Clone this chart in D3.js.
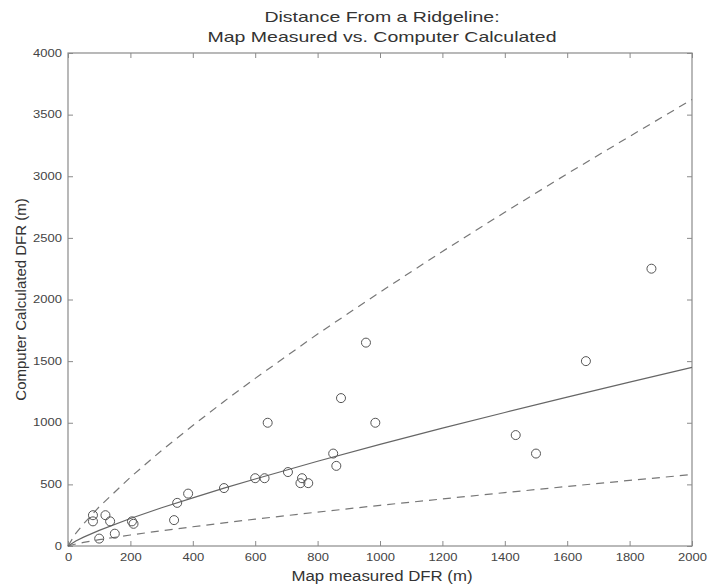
<!DOCTYPE html>
<html>
<head>
<meta charset="utf-8">
<script src="https://cdn.jsdelivr.net/npm/d3@7/dist/d3.min.js"></script>
<style>
  body { margin: 0; background: #fff; }
  svg { display: block; }
  text { font-family: "Liberation Sans", Arial, Helvetica, sans-serif; }
</style>
</head>
<body>
<svg id="chart" width="720" height="585"></svg>
<script>
// Observed points: map measured vs computer calculated DFR (m)
const mapMeasured = [80, 80, 120, 135, 205, 210, 100, 150, 340, 350, 385, 500, 600, 630, 640, 705, 750, 745, 770, 850, 860, 875, 955, 985, 1435, 1500, 1660, 1870];
const computerCalc = [250, 200, 250, 200, 200, 180, 60, 100, 210, 350, 425, 470, 550, 550, 1000, 600, 550, 510, 510, 750, 650, 1200, 1650, 1000, 900, 750, 1500, 2250];

// Curves (fit line and upper/lower dashed bounds)
const curveX = [0, 25, 50, 100, 200, 300, 400, 500, 600, 800, 1000, 1200, 1400, 1600, 1800, 2000];
const fitLine = [0, 41, 72, 127, 223, 310, 391, 469, 544, 688, 824, 956, 1083, 1208, 1329, 1449];
const upperBound = [0, 103, 180, 318, 558, 775, 978, 1173, 1360, 1720, 2060, 2390, 2708, 3020, 3323, 3623];
const lowerBound = [0, 16, 29, 51, 89, 124, 156, 188, 218, 275, 330, 382, 433, 483, 532, 580];

const xTicks = [0, 200, 400, 600, 800, 1000, 1200, 1400, 1600, 1800, 2000];
const yTicks = [0, 500, 1000, 1500, 2000, 2500, 3000, 3500, 4000];

const titleLines = ["Distance From a Ridgeline:", "Map Measured vs. Computer Calculated"];
const xLabel = "Map measured DFR (m)";
const yLabel = "Computer Calculated DFR (m)";

const margin = { left: 68, right: 28, top: 53, bottom: 39 };
const W = 720, H = 585;
const svg = d3.select("#chart");

const x = d3.scaleLinear().domain([0, 2000]).range([margin.left, W - margin.right]);
const y = d3.scaleLinear().domain([0, 4000]).range([H - margin.bottom, margin.top]);

const axisColor = "#8a8a8a";
const textColor = "#333";

// Horizontally stretch text (reference text is wide)
function stretch(sel, f) {
  sel.each(function() {
    const len = this.getComputedTextLength();
    if (len > 0) d3.select(this).attr("textLength", len * f).attr("lengthAdjust", "spacingAndGlyphs");
  });
}

// Frame
svg.append("rect")
  .attr("x", x(0)).attr("y", y(4000))
  .attr("width", x(2000) - x(0)).attr("height", y(0) - y(4000))
  .attr("fill", "none").attr("stroke", axisColor).attr("stroke-width", 1.2);

// Axes (ticks inward)
const tickLen = 5;
const gx = svg.append("g").attr("transform", `translate(0,${y(0)})`)
  .call(d3.axisBottom(x).tickValues(xTicks).tickSize(-tickLen).tickPadding(8).tickFormat(d3.format("d")));
const gxTop = svg.append("g").attr("transform", `translate(0,${y(4000)})`)
  .call(d3.axisTop(x).tickValues(xTicks).tickSize(-tickLen).tickFormat(""));
const gy = svg.append("g").attr("transform", `translate(${x(0)},0)`)
  .call(d3.axisLeft(y).tickValues(yTicks).tickSize(-tickLen).tickPadding(6).tickFormat(d3.format("d")));
const gyRight = svg.append("g").attr("transform", `translate(${x(2000)},0)`)
  .call(d3.axisRight(y).tickValues(yTicks).tickSize(-tickLen).tickFormat(""));

[gx, gxTop, gy, gyRight].forEach(g => {
  g.select(".domain").remove();
  g.selectAll(".tick line").attr("stroke", axisColor);
  g.selectAll(".tick text").attr("fill", "#444").style("font-size", "10px")
    .style("font-family", '"Liberation Sans", Arial, sans-serif');
});
stretch(gx.selectAll(".tick text"), 1.3);
stretch(gy.selectAll(".tick text"), 1.3);

// Curves
const line = d3.line().x(d => x(d[0])).y(d => y(d[1]));
const mk = arr => curveX.map((v, i) => [v, arr[i]]);

svg.append("path").datum(mk(upperBound)).attr("d", line)
  .attr("fill", "none").attr("stroke", "#777").attr("stroke-width", 1.2).attr("stroke-dasharray", "8,6");
svg.append("path").datum(mk(lowerBound)).attr("d", line)
  .attr("fill", "none").attr("stroke", "#777").attr("stroke-width", 1.2).attr("stroke-dasharray", "8,6");
svg.append("path").datum(mk(fitLine)).attr("d", line)
  .attr("fill", "none").attr("stroke", "#666").attr("stroke-width", 1.2);

// Points
svg.append("g").selectAll("circle")
  .data(mapMeasured.map((v, i) => [v, computerCalc[i]]))
  .join("circle")
  .attr("cx", d => x(d[0])).attr("cy", d => y(d[1])).attr("r", 4.5)
  .attr("fill", "none").attr("stroke", "#555").attr("stroke-width", 1);

// Title
const tt = svg.append("g").selectAll("text").data(titleLines).join("text")
  .attr("x", 382).attr("y", (d, i) => 22 + i * 20)
  .attr("text-anchor", "middle").attr("fill", textColor)
  .style("font-size", "15px").text(d => d);
stretch(tt, 1.3);

// Axis labels
const xl = svg.append("text").attr("x", 382).attr("y", 581)
  .attr("text-anchor", "middle").attr("fill", textColor).style("font-size", "14px").text(xLabel);
stretch(xl, 1.2);
const yl = svg.append("text").attr("transform", `translate(26,${(y(0) + y(4000)) / 2}) rotate(-90)`)
  .attr("text-anchor", "middle").attr("fill", textColor).style("font-size", "14px").text(yLabel);
stretch(yl, 1.07);
</script>
</body>
</html>
